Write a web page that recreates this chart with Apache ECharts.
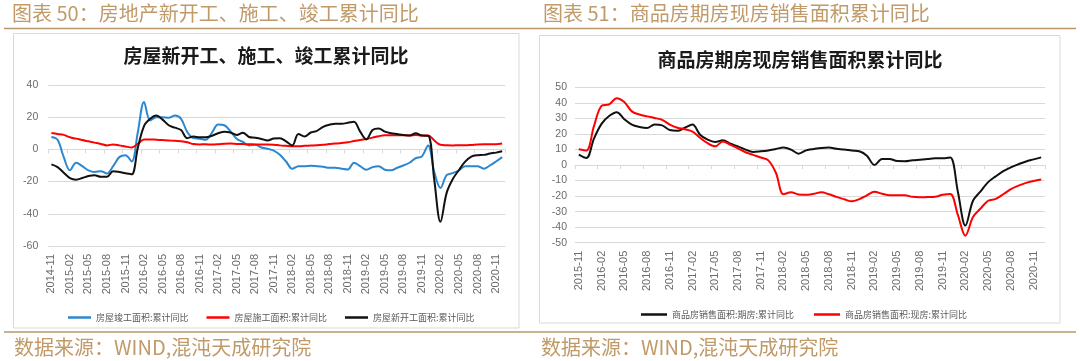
<!DOCTYPE html>
<html>
<head>
<meta charset="utf-8">
<script src="https://cdn.jsdelivr.net/npm/echarts/dist/echarts.min.js"></script>
<style>
html,body{margin:0;padding:0;background:#ffffff;}
#chart{width:1080px;height:361px;}
</style>
</head>
<body>
<div id="chart"></div>
<script>
// ---------- DATA ----------
const leftCategories = [
  '2014-11','2014-12',
  '2015-01','2015-02','2015-03','2015-04','2015-05','2015-06','2015-07','2015-08','2015-09','2015-10','2015-11','2015-12',
  '2016-01','2016-02','2016-03','2016-04','2016-05','2016-06','2016-07','2016-08','2016-09','2016-10','2016-11','2016-12',
  '2017-01','2017-02','2017-03','2017-04','2017-05','2017-06','2017-07','2017-08','2017-09','2017-10','2017-11','2017-12',
  '2018-01','2018-02','2018-03','2018-04','2018-05','2018-06','2018-07','2018-08','2018-09','2018-10','2018-11','2018-12',
  '2019-01','2019-02','2019-03','2019-04','2019-05','2019-06','2019-07','2019-08','2019-09','2019-10','2019-11','2019-12',
  '2020-01','2020-02','2020-03','2020-04','2020-05','2020-06','2020-07','2020-08','2020-09','2020-10','2020-11','2020-12'
];
const rightCategories = [
  '2015-11','2015-12',
  '2016-01','2016-02','2016-03','2016-04','2016-05','2016-06','2016-07','2016-08','2016-09','2016-10','2016-11','2016-12',
  '2017-01','2017-02','2017-03','2017-04','2017-05','2017-06','2017-07','2017-08','2017-09','2017-10','2017-11','2017-12',
  '2018-01','2018-02','2018-03','2018-04','2018-05','2018-06','2018-07','2018-08','2018-09','2018-10','2018-11','2018-12',
  '2019-01','2019-02','2019-03','2019-04','2019-05','2019-06','2019-07','2019-08','2019-09','2019-10','2019-11','2019-12',
  '2020-01','2020-02','2020-03','2020-04','2020-05','2020-06','2020-07','2020-08','2020-09','2020-10','2020-11','2020-12'
];

// 房屋竣工面积:累计同比
const completedArea = [
  7.7, 6, -4.8, -13, -8.3, -10.4, -13, -14, -13.5, -15, -10.4, -4.8, -3.7, -7.5,
  10.8, 29.5, 18, 20, 20, 19.7, 21, 19, 10.8, 7, 6.6, 6,
  10.4, 15.5, 15, 11.2, 6.6, 4.6, 2.5, 2.9, 1.2, 0.4, -0.7, -3.3,
  -7.5, -12, -10.4, -10.4, -10.1, -10.4, -10.8, -11.4, -11.4, -12, -12.5, -8.3,
  -10.4, -12.6, -11, -10.4, -12.6, -13, -11.4, -10, -8.3, -5.4, -4.3, 2.5,
  -14, -24, -16, -14.7, -13, -10.4, -10.4, -10.4, -12, -10, -7.5, -4.8
];
// 房屋施工面积:累计同比
const constructionArea = [
  10.2, 9.6, 9.0, 7.5, 6.7, 5.8, 5.0, 4.2, 3.4, 2.5, 3.1, 2.5, 1.8, 1.2,
  3.5, 6.1, 6.2, 6.0, 5.8, 5.6, 5.3, 5.1, 4.5, 3.3, 3.1, 3.2,
  3.0, 3.2, 3.5, 3.6, 3.4, 3.3, 3.2, 3.1, 3.0, 3.0, 2.9, 2.5,
  2.2, 1.9, 2.0, 2.2, 2.4, 2.6, 2.9, 3.3, 3.6, 4.0, 4.4, 5.2,
  5.8, 6.5, 7.3, 8.2, 8.8, 8.8, 8.8, 8.8, 8.7, 9.0, 8.7, 8.7,
  5.5, 2.9, 2.6, 2.5, 2.6, 2.6, 2.8, 3.1, 3.2, 3.2, 3.2, 3.7
];
// 房屋新开工面积:累计同比
const newStartArea = [
  -9.3, -11, -14.5, -17.8, -18.8, -17.8, -16.5, -16, -17, -17, -13.5, -14, -14.8, -15.5,
  1, 14.5, 19, 21, 18.5, 15, 13.5, 12, 7, 8, 7.5, 7.5,
  8.5, 10, 11, 10.5, 9, 10.4, 7.7, 7.2, 6.5, 5.5, 6.8, 7,
  5, 2.5, 9.5, 8, 10.5, 11.5, 14, 15.3, 16, 16, 16.5, 17.2,
  11, 6.2, 12, 13, 11, 10, 9.5, 9, 8.6, 10, 8.6, 8.5,
  -19, -45, -27, -18.4, -12.8, -7.6, -4.5, -3.6, -3.4, -2.6, -2.0, -1.2
];
// 商品房销售面积:期房:累计同比
const futuresSales = [
  6.7, 4.5, 17, 26.5, 31.5, 34, 29.5, 26, 24.5, 23.8, 26, 25.5, 22.5, 22,
  24, 26, 19.5, 16.3, 14.8, 15.9, 13.7, 12, 9.9, 8.4, 8.8, 9.4,
  10.3, 11.2, 9.9, 7.3, 9.4, 10.3, 11, 11.2, 10.4, 10, 9.3, 8.8,
  6, 0, 3.8, 3.9, 2.5, 2.4, 3, 3.4, 3.8, 4.3, 4.3, 4.8,
  -17, -39, -23, -17, -11, -7.3, -4, -1.5, 0.5, 2.3, 3.6, 4.9
];
// 商品房销售面积:现房:累计同比
const spotSales = [
  10.2, 9.3, 25, 38, 39, 43, 40.5, 34.5, 32.5, 31.3, 30.3, 29, 26, 24,
  23, 21.5, 17.5, 14, 12, 15.2, 13, 10.7, 8.2, 6.5, 4.8, 3,
  -5, -18.8, -17.6, -19, -19.2, -18.5, -17.6, -18.8, -20.5, -22, -23.4, -22,
  -19.5, -17.2, -18.5, -19.5, -19.5, -19.5, -20.5, -20.8, -20.6, -20.4, -19.2, -18.6,
  -32, -45.5, -33.5, -28, -23, -21.8, -18.8, -15.5, -13.3, -11.5, -10.3, -9.4
];

const leftSeriesNames = ['房屋竣工面积:累计同比', '房屋施工面积:累计同比', '房屋新开工面积:累计同比'];
const rightSeriesNames = ['商品房销售面积:期房:累计同比', '商品房销售面积:现房:累计同比'];

// ---------- STYLE ----------
const FONT_CN = '"Noto Sans CJK SC", sans-serif';
const FONT_NUM = '"Liberation Sans", Arial, sans-serif';
const GRID_COLOR = '#d9d9d9';
const LABEL_COLOR = '#6b6b6b';
const GOLD_TEXT = '#c09a68';
const GOLD_LINE = '#b8976a';
const BLUE = '#2b87cf';
const RED = '#ff0000';
const BLACK = '#111111';

function xAxes(gridIndex, cats) {
  return [
    {
      type: 'category', gridIndex: gridIndex, data: cats, boundaryGap: true, position: 'bottom',
      axisLine: { show: false, onZero: false }, axisTick: { show: false },
      axisLabel: { interval: 2, rotate: 90, fontSize: 11, color: LABEL_COLOR, fontFamily: FONT_NUM, margin: 8 },
      splitLine: { show: false }
    },
    {
      type: 'category', gridIndex: gridIndex, data: cats, boundaryGap: true, position: 'bottom',
      axisLine: { show: true, onZero: true, lineStyle: { color: GRID_COLOR, width: 1 } },
      axisTick: { show: true, interval: 2, length: 4, lineStyle: { color: GRID_COLOR } },
      axisLabel: { show: false }, splitLine: { show: false }
    }
  ];
}

function yAxis(gridIndex, min, max, interval, margin) {
  return {
    type: 'value', gridIndex: gridIndex, min: min, max: max, interval: interval,
    axisLine: { show: false }, axisTick: { show: false },
    axisLabel: { fontSize: 10.5, color: LABEL_COLOR, fontFamily: FONT_NUM, margin: margin },
    splitLine: { lineStyle: { color: GRID_COLOR, width: 1 } }
  };
}

function lineSeries(name, data, color, xAxisIndex, yAxisIndex) {
  return {
    name: name, type: 'line', data: data, xAxisIndex: xAxisIndex, yAxisIndex: yAxisIndex,
    smooth: 0.35, showSymbol: false, symbol: 'none', color: color,
    lineStyle: { color: color, width: 2 }, itemStyle: { color: color },
    emphasis: { disabled: true }, animation: false
  };
}

function txt(x, y, text, size, fill, align, weight) {
  return {
    type: 'text', x: x, y: y, silent: true,
    style: {
      text: text, fill: fill, font: (weight || 'normal') + ' ' + size + 'px ' + FONT_CN,
      textAlign: align || 'left', textVerticalAlign: 'middle',
      align: align || 'left', verticalAlign: 'middle'
    }
  };
}

const chart = echarts.init(document.getElementById('chart'), null, { renderer: 'canvas' });
chart.setOption({
  backgroundColor: '#ffffff',
  animation: false,
  graphic: [
    txt(12, 13, '图表 50：房地产新开工、施工、竣工累计同比', 20, GOLD_TEXT),
    txt(543, 13, '图表 51：商品房期房现房销售面积累计同比', 20, GOLD_TEXT),
    { type: 'line', silent: true, shape: { x1: 4, y1: 28.5, x2: 1076, y2: 28.5 }, style: { stroke: GOLD_LINE, lineWidth: 1.5 } },
    { type: 'line', silent: true, shape: { x1: 4, y1: 332, x2: 1076, y2: 332 }, style: { stroke: GOLD_LINE, lineWidth: 1.5 } },
    { type: 'rect', silent: true, shape: { x: 13.5, y: 33.5, width: 505.5, height: 294.5 }, style: { fill: 'none', stroke: GRID_COLOR, lineWidth: 1 } },
    { type: 'rect', silent: true, shape: { x: 539.5, y: 35.5, width: 520.5, height: 287.5 }, style: { fill: 'none', stroke: GRID_COLOR, lineWidth: 1 } },
    txt(266, 56, '房屋新开工、施工、竣工累计同比', 19, '#1a1a1a', 'center', 'bold'),
    txt(800, 60, '商品房期房现房销售面积累计同比', 19, '#1a1a1a', 'center', 'bold'),
    txt(14, 347, '数据来源：WIND,混沌天成研究院', 20, GOLD_TEXT),
    txt(541, 347, '数据来源：WIND,混沌天成研究院', 20, GOLD_TEXT)
  ],
  grid: [
    { left: 48.3, top: 85, width: 457, height: 161 },
    { left: 575, top: 87.3, width: 470, height: 155.4 }
  ],
  xAxis: xAxes(0, leftCategories).concat(xAxes(1, rightCategories)),
  yAxis: [
    yAxis(0, -60, 40, 20, 10),
    yAxis(1, -50, 50, 10, 8)
  ],
  legend: [
    {
      left: 63, top: 308, icon: 'rect', itemWidth: 23, itemHeight: 2.5, itemGap: 18,
      textStyle: { fontSize: 9, color: '#595959', fontFamily: FONT_CN },
      data: leftSeriesNames, selectedMode: false
    },
    {
      left: 636, top: 305, icon: 'rect', itemWidth: 26, itemHeight: 2.5, itemGap: 20,
      textStyle: { fontSize: 9, color: '#595959', fontFamily: FONT_CN },
      data: rightSeriesNames, selectedMode: false
    }
  ],
  series: [
    lineSeries(leftSeriesNames[0], completedArea, BLUE, 0, 0),
    lineSeries(leftSeriesNames[1], constructionArea, RED, 0, 0),
    lineSeries(leftSeriesNames[2], newStartArea, BLACK, 0, 0),
    lineSeries(rightSeriesNames[0], futuresSales, BLACK, 2, 1),
    lineSeries(rightSeriesNames[1], spotSales, RED, 2, 1)
  ]
});
</script>
</body>
</html>
